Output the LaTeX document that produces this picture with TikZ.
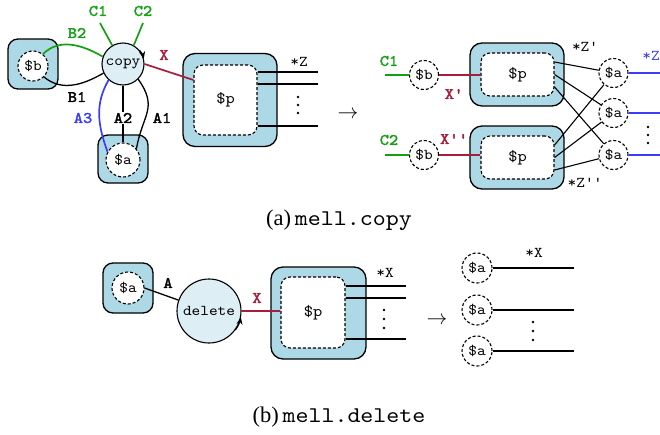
\documentclass[tikz,border=0pt]{standalone}
\usepackage{fontspec}
\setmainfont{Liberation Serif}
\setmonofont{lmmono10-regular}[Extension=.otf, BoldFont=lmmono10-regular, FakeStretch=1.1, BoldFeatures={FakeBold=2.2}]
\usetikzlibrary{arrows.meta,calc}
\definecolor{boxblue}{RGB}{173,216,230}
\definecolor{circblue}{RGB}{221,238,245}
\definecolor{wgreen}{RGB}{20,160,20}
\definecolor{wred}{RGB}{165,30,60}
\definecolor{wblue}{RGB}{60,60,250}
\newcommand\dtext{\ttfamily\fontsize{15}{17}\selectfont}
\newcommand\ptext{\ttfamily\fontsize{16}{18}\selectfont}
\newcommand\dlabel{\ttfamily\bfseries\fontsize{16}{18}\selectfont}
\tikzset{
  x=1pt, y=1pt,
  outerbox/.style={draw, line width=1.3pt, fill=boxblue, rounded corners=10pt, inner sep=0pt},
  innerbox/.style={draw, dash pattern=on 3pt off 2pt, line width=1.1pt, fill=white, rounded corners=9pt, inner sep=0pt, font=\ptext},
  port/.style={draw, dash pattern=on 3pt off 2pt, circle, fill=white, inner sep=0pt, line width=1.1pt, font=\dtext},
  agent/.style={draw, circle, fill=circblue, line width=1.1pt, inner sep=0pt, font=\dtext},
  wire/.style={line width=1.3pt},
  thinwire/.style={line width=1.1pt},
  cwire/.style={line width=1.7pt},
  lbl/.style={font=\dlabel, inner sep=1pt},
  plain/.style={font=\dtext, inner sep=1pt},
  dotc/.style={circle, fill=black, inner sep=0pt, minimum size=2.8pt},
  tipst/.style={-{Stealth[length=7pt,width=6pt]}, line width=1.1pt},
}
\begin{document}
\begin{tikzpicture}
\useasboundingbox (0,0) rectangle (660,-434);
% ---------------- panel (a), left
\node[outerbox, minimum width=50pt, minimum height=50pt] (boxb) at (33,-64) {};
\node[port, minimum size=30pt] (b) at (33,-66) {\$b};
\node[agent, minimum size=42pt] (copy) at (123,-64) {copy};
\node[outerbox, minimum width=50pt, minimum height=48pt] (boxa) at (123,-159) {};
\node[port, minimum size=34pt] (a) at (123,-160) {\$a};
\node[outerbox, minimum width=94pt, minimum height=93pt, rounded corners=12pt] (boxp) at (230,-100) {};
\node[innerbox, minimum width=63pt, minimum height=70pt] (p) at (225.5,-100) {\$p};
\draw[tipst] (copy.40) arc[start angle=40, end angle=14, radius=21pt];
\coordinate (c1e) at (100,-23);
\coordinate (c2e) at (143,-23);
\draw[cwire, wgreen] (c1e) -- (copy.120);
\draw[cwire, wgreen] (c2e) -- (copy.60);
\node[lbl, wgreen] (lc1) at (98,-11) {C1};
\node[lbl, wgreen] (lc2) at (143,-11) {C2};
\draw[cwire, wgreen] (b.50) to[out=45, in=150] (copy.160);
\node[lbl, wgreen] (lb2) at (77,-33) {B2};
\draw[wire] (b.-45) to[out=-40, in=-150] (copy.205);
\node[lbl] (lb1) at (77,-97) {B1};
\draw[cwire, wblue] (copy.228) to[out=240, in=110] (a.152);
\node[lbl, wblue] (la3) at (83,-118) {A3};
\draw[wire] (copy.south) -- (a.north);
\node[lbl, fill=white] (la2) at (123,-118) {A2};
\draw[wire] (copy.-45) to[out=-55, in=80, looseness=1.3] (a.40);
\node[lbl] (la1) at (162,-118) {A1};
\draw[cwire, wred] (copy.east) -- ([yshift=20pt]p.west);
\node[lbl, wred] (lx) at (164,-55) {X};
\coordinate (z1) at (318,-72);
\coordinate (z2) at (318,-84);
\coordinate (z3) at (318,-126);
\draw[wire] (p.east |- z1) -- (z1);
\draw[wire] (p.east |- z2) -- (z2);
\draw[wire] (p.east |- z3) -- (z3);
\node[plain] (lz) at (299,-62) {*Z};
\node[dotc] (d1) at (298,-97) {};
\node[dotc] (d2) at (298,-105) {};
\node[dotc] (d3) at (298,-113) {};
\node[font=\fontsize{20}{22}\selectfont, inner sep=0pt] (arra) at (348,-115) {$\rightarrow$};
% ---------------- panel (a), right
\node[port, minimum size=29pt] (b1) at (424,-75) {\$b};
\node[port, minimum size=29pt] (b2) at (424,-155) {\$b};
\coordinate (g1) at (385,-75);
\coordinate (g2) at (385,-155);
\draw[cwire, wgreen] (g1) -- (b1);
\draw[cwire, wgreen] (g2) -- (b2);
\node[lbl, wgreen] (lc1r) at (389,-61) {C1};
\node[lbl, wgreen] (lc2r) at (389,-140) {C2};
\node[outerbox, minimum width=94pt, minimum height=63pt, rounded corners=12pt] (boxp1) at (517,-74.5) {};
\node[innerbox, minimum width=73pt, minimum height=43pt] (p1) at (517.5,-74.5) {\$p};
\node[outerbox, minimum width=94pt, minimum height=63pt, rounded corners=12pt] (boxp2) at (517,-157.5) {};
\node[innerbox, minimum width=73pt, minimum height=43pt] (p2) at (517.5,-157.5) {\$p};
\draw[cwire, wred] (b1.east) -- (p1.west |- b1.east);
\draw[cwire, wred] (b2.east) -- (p2.west |- b2.east);
\node[lbl, wred] (lxa) at (454,-94) {X'};
\node[lbl, wred] (lxb) at (454,-139) {X''};
\node[plain] (lz1) at (585,-47) {*Z'};
\node[plain] (lz2) at (585,-183) {*Z''};
\node[port, minimum size=29pt] (a1) at (613.5,-73) {\$a};
\node[port, minimum size=29pt] (a2) at (613.5,-113) {\$a};
\node[port, minimum size=29pt] (a3) at (613.5,-155) {\$a};
\draw[thinwire] ([yshift=12.5pt]p1.east) -- (a1);
\draw[thinwire] (p1.east) -- (a2);
\draw[thinwire] ([yshift=-12.5pt]p1.east) -- (a3);
\draw[thinwire] ([yshift=12.5pt]p2.east) -- (a1);
\draw[thinwire] (p2.east) -- (a2);
\draw[thinwire] ([yshift=-12.5pt]p2.east) -- (a3);
\coordinate (e1) at (662,-73);
\coordinate (e2) at (662,-113);
\coordinate (e3) at (662,-155);
\draw[cwire, wblue] (a1.east) -- (e1);
\draw[cwire, wblue] (a2.east) -- (e2);
\draw[cwire, wblue] (a3.east) -- (e3);
\node[plain, wblue] (lzr) at (651,-56) {*Z};
\node[dotc] (d4) at (648,-127) {};
\node[dotc] (d5) at (648,-135) {};
\node[dotc] (d6) at (648,-143) {};
% caption (a)
\node[font=\fontsize{22.5}{26}\selectfont, inner sep=0pt] (capa) at (339,-220) {(a)\,\texttt{mell.copy}};
% ---------------- panel (b)
\node[outerbox, minimum width=50pt, minimum height=50pt] (boxda) at (128,-288) {};
\node[port, minimum size=32pt] (da) at (128,-288) {\$a};
\node[agent, minimum size=64pt] (del) at (209,-311) {delete};
\draw[tipst] (del.-36) arc[start angle=-36, end angle=-11, radius=32pt];
\draw[wire] (da.east) -- (del);
\node[lbl] (la) at (168,-283) {A};
\node[outerbox, minimum width=95pt, minimum height=92pt, rounded corners=12pt] (boxp3) at (318.5,-313) {};
\node[innerbox, minimum width=64pt, minimum height=71pt] (p3) at (313,-312.5) {\$p};
\draw[cwire, wred] (del.east) -- (p3.west |- del.east);
\node[lbl, wred] (lxd) at (257,-298) {X};
\coordinate (x1) at (406,-286);
\coordinate (x2) at (406,-298);
\coordinate (x3) at (406,-339);
\draw[wire] (p3.east |- x1) -- (x1);
\draw[wire] (p3.east |- x2) -- (x2);
\draw[wire] (p3.east |- x3) -- (x3);
\node[plain] (lxs) at (385,-273) {*X};
\node[dotc] (d7) at (384,-310) {};
\node[dotc] (d8) at (384,-319) {};
\node[dotc] (d9) at (384,-328) {};
\node[font=\fontsize{20}{22}\selectfont, inner sep=0pt] (arrb) at (437,-321) {$\rightarrow$};
\node[port, minimum size=30pt] (q1) at (477,-268) {\$a};
\node[port, minimum size=30pt] (q2) at (477,-310) {\$a};
\node[port, minimum size=30pt] (q3) at (477,-351) {\$a};
\coordinate (f1) at (574,-268);
\coordinate (f2) at (574,-310);
\coordinate (f3) at (574,-351);
\draw[wire] (q1.east) -- (f1);
\draw[wire] (q2.east) -- (f2);
\draw[wire] (q3.east) -- (f3);
\node[plain] (lxs2) at (534,-253) {*X};
\node[dotc] (d10) at (533,-322) {};
\node[dotc] (d11) at (533,-331) {};
\node[dotc] (d12) at (533,-340) {};
% caption (b)
\node[font=\fontsize{22.5}{26}\selectfont, inner sep=0pt] (capb) at (339,-417) {(b)\,\texttt{mell.delete}};
\end{tikzpicture}
\end{document}
